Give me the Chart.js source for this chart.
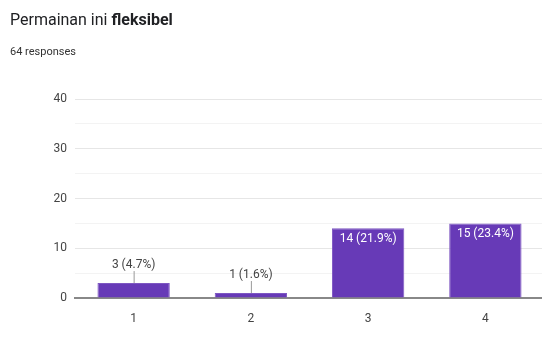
<!DOCTYPE html>
<html>
<head>
<meta charset="utf-8">
<script src="https://cdn.jsdelivr.net/npm/chart.js@4/dist/chart.umd.min.js"></script>
<style>
  body { margin: 0; background: #fff; font-family: Roboto, Arial, sans-serif; }
  #wrap { position: relative; width: 542px; height: 362px; overflow: hidden; }
  #title { position: absolute; left: 10px; top: 10px; font-size: 16px; color: #202124; white-space: nowrap; }
  #title b { font-weight: 700; }
  #sub { position: absolute; left: 10px; top: 45px; font-size: 11px; color: #333; }
  canvas { position: absolute; left: 0; top: 0; }
</style>
</head>
<body>
<div id="wrap">
  <canvas id="chart" width="544" height="362"></canvas>
  <div id="title">Permainan ini <b>fleksibel</b></div>
  <div id="sub">64 responses</div>
</div>
<script>
const categories = ['1', '2', '3', '4']
const counts = [3, 1, 14, 15]
const percents = ['4.7%', '1.6%', '21.9%', '23.4%']
const yTicks = [0, 10, 20, 30, 40]

// labels: small bars get a label above with a little line, tall bars get white text inside
const barLabels = {
    id: 'barLabels',
    afterDatasetsDraw(chart) {
        const ctx = chart.ctx
        const meta = chart.getDatasetMeta(0)
        ctx.save()
        ctx.font = '12px Roboto, Arial, sans-serif'
        ctx.textAlign = 'center'
        ctx.textBaseline = 'middle'
        meta.data.forEach((bar, i) => {
            const text = counts[i] + ' (' + percents[i] + ')'
            if (bar.base - bar.y > 30) {
                ctx.fillStyle = '#ffffff'
                ctx.fillText(text, bar.x, bar.y + 11)
            } else {
                ctx.strokeStyle = '#999'
                ctx.lineWidth = 1
                ctx.beginPath()
                ctx.moveTo(bar.x + 0.5, bar.y)
                ctx.lineTo(bar.x + 0.5, bar.y - 12)
                ctx.stroke()
                ctx.fillStyle = '#444'
                ctx.fillText(text, bar.x, bar.y - 18)
            }
        })
        ctx.restore()
    }
}

new Chart(document.getElementById('chart'), {
    type: 'bar',
    data: {
        labels: categories,
        datasets: [{
            data: counts,
            backgroundColor: '#673ab7',
            borderColor: '#7e57c2',
            borderWidth: 1,
            categoryPercentage: 1,
            barPercentage: 0.617
        }]
    },
    options: {
        responsive: false,
        animation: false,
        layout: { padding: { top: 99, right: 0, bottom: 0, left: 0 } },
        plugins: { legend: { display: false }, tooltip: { enabled: false } },
        scales: {
            x: {
                grid: { display: false },
                border: { color: '#888', width: 2 },
                ticks: { color: '#444', font: { family: 'Roboto', size: 12 }, padding: 6 },
                afterFit: (s) => { s.height = 64 }
            },
            y: {
                min: 0,
                max: 40,
                ticks: {
                    stepSize: 5,
                    color: '#444',
                    font: { family: 'Roboto', size: 12 },
                    padding: 8,
                    callback: (v) => yTicks.includes(v) ? v : ''
                },
                grid: {
                    drawTicks: false,
                    color: (c) => c.tick.value === 0 ? 'rgba(0,0,0,0)' : (c.tick.value % 10 === 0 ? '#e6e6e6' : '#f3f3f3')
                },
                border: { display: false },
                afterFit: (s) => { s.width = 75 }
            }
        }
    },
    plugins: [barLabels]
})
</script>
</body>
</html>
